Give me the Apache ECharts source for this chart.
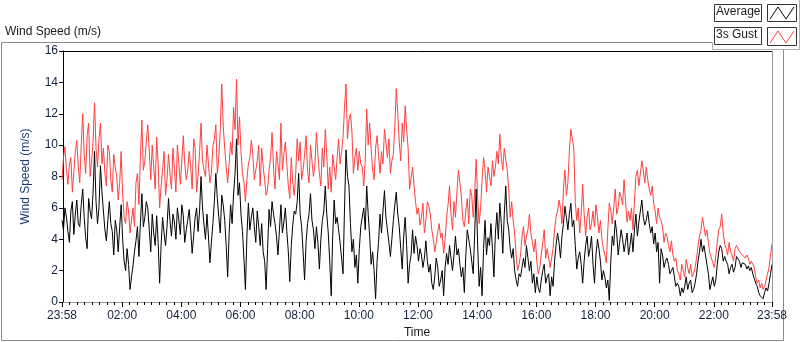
<!DOCTYPE html>
<html>
<head>
<meta charset="utf-8">
<script src="https://cdn.jsdelivr.net/npm/echarts@6/dist/echarts.min.js"></script>
<style>
html,body{margin:0;padding:0;background:#fff;}
#chart{width:800px;height:342px;}
</style>
</head>
<body>
<div id="chart"></div>
<script>
// Sampling: minutes since midnight of the first day, one sample every 3 minutes
const startMinute = -2;      // 23:58
const stepMinutes = 3;

const gustSpeed = [
 7.8, 9.2, 9.9, 8.4, 7.5, 8.8, 9.2, 7.0, 8.3, 9.6, 10.3, 8.6, 7.6, 10.0, 12.0, 9.4, 8.2, 10.6, 11.4, 8.0, 9.0, 10.2, 12.7, 9.8, 8.6, 10.4, 11.4, 8.8, 9.8, 8.2, 7.4, 10.0, 9.6, 7.8, 7.0, 9.4, 8.6, 8.0, 6.5, 7.6, 9.6,
 6.8, 5.4, 5.0, 6.4, 5.8, 4.4, 5.2, 6.0, 4.8, 7.6, 8.2, 6.2, 9.2, 11.6, 8.4, 9.0, 10.2, 11.3, 9.6, 7.8, 10.0, 8.6, 7.2, 10.5, 8.8, 6.0, 7.4, 8.4, 9.6, 6.8, 7.8, 9.4, 8.2, 7.2, 9.8, 8.5, 7.0, 10.0, 8.8, 7.5,
 9.0, 10.6, 8.8, 7.8, 8.4, 9.6, 8.6, 7.2, 10.4, 9.8, 7.0, 8.0, 9.6, 11.4, 9.0, 8.4, 8.0, 10.0, 8.8, 7.6, 8.2, 9.9, 10.4, 11.3, 8.2, 9.2, 11.0, 13.9, 11.2, 9.8, 8.6, 7.6, 8.8, 10.2, 9.4, 12.4, 11.0, 14.2, 10.0, 11.8,
 9.6, 8.2, 7.6, 6.4, 7.8, 8.8, 9.2, 10.3, 9.4, 7.8, 8.4, 9.0, 10.0, 7.4, 9.8, 8.6, 7.8, 6.8, 7.2, 8.4, 9.2, 10.8, 8.6, 7.2, 9.6, 8.8, 7.8, 11.4, 8.4, 9.4, 10.2, 8.8, 7.4, 6.6, 9.2, 7.6, 6.8, 8.2, 10.4, 9.0,
 10.2, 7.8, 8.4, 9.4, 10.6, 8.4, 7.6, 10.0, 9.0, 8.0, 8.8, 10.8, 9.4, 8.2, 7.4, 9.8, 8.6, 11.0, 9.4, 7.2, 8.6, 7.0, 9.4, 8.6, 7.8, 9.2, 10.4, 8.8, 9.6, 10.5, 12.4, 13.9, 10.4, 11.6, 12.0, 10.9, 8.2, 9.2, 9.8, 8.4,
 9.6, 8.8, 8.6, 7.4, 9.0, 12.3, 10.0, 11.4, 9.8, 8.4, 7.8, 9.8, 10.6, 9.4, 8.2, 9.6, 8.8, 11.0, 10.2, 9.2, 10.4, 8.2, 9.0, 9.4, 11.2, 13.6, 12.0, 10.2, 9.0, 11.4, 10.2, 12.5, 11.0, 9.8, 7.2, 7.9, 8.6, 7.4, 6.4, 5.6,
 6.0, 4.9, 5.4, 6.3, 4.4, 5.2, 6.4, 6.1, 5.6, 4.6, 4.0, 3.2, 3.8, 4.5, 5.0, 4.1, 4.4, 3.1, 4.0, 5.4, 6.2, 7.4, 5.6, 4.6, 6.4, 5.4, 7.0, 8.4, 7.6, 6.7, 5.2, 4.8, 5.8, 6.6, 5.0, 7.2, 6.8, 5.4, 7.0, 9.1,
 6.6, 5.0, 6.0, 7.8, 9.2, 8.4, 7.0, 8.6, 8.0, 7.4, 9.0, 8.0, 8.6, 9.6, 8.8, 10.7, 9.2, 8.4, 9.8, 9.8, 8.4, 7.2, 5.4, 6.4, 5.2, 4.4, 3.0, 2.0, 2.4, 3.0, 4.2, 4.8, 3.6, 4.2, 4.6, 5.6, 4.4, 3.8, 3.2, 4.0,
 2.6, 1.8, 2.2, 3.0, 3.8, 4.6, 2.8, 3.4, 2.8, 2.2, 2.8, 3.4, 4.6, 5.4, 5.8, 6.5, 6.0, 5.0, 7.2, 8.4, 6.8, 7.6, 9.6, 11.0, 10.4, 9.8, 6.4, 5.2, 6.0, 4.4, 5.6, 7.5, 5.6, 4.2, 5.4, 6.0, 4.6, 5.0, 5.8, 4.8,
 6.2, 5.4, 4.4, 5.2, 4.0, 3.4, 3.0, 2.5, 4.6, 6.3, 5.8, 5.0, 6.0, 7.2, 5.6, 6.0, 7.0, 6.7, 6.2, 7.8, 6.4, 5.1, 5.8, 5.2, 6.0, 4.6, 6.4, 8.0, 8.4, 7.4, 8.2, 9.0, 8.4, 7.6, 8.6, 7.8, 7.2, 6.8, 7.4, 6.3,
 5.8, 5.0, 6.0, 5.4, 5.2, 4.8, 3.8, 4.4, 4.2, 3.6, 3.2, 3.9, 3.0, 2.6, 2.8, 2.0, 1.8, 1.4, 2.4, 2.0, 1.6, 2.7, 2.2, 1.8, 2.4, 1.6, 1.8, 2.2, 2.8, 3.6, 4.2, 4.6, 5.4, 4.8, 4.2, 4.6, 3.8, 3.1, 2.8, 2.5,
 2.2, 2.9, 3.8, 4.6, 4.8, 5.6, 4.4, 3.7, 3.4, 3.0, 3.8, 3.2, 3.0, 2.6, 3.4, 3.6, 3.4, 3.2, 3.3, 3.0, 2.9, 2.8, 3.0, 2.8, 2.4, 2.6, 2.4, 2.2, 1.6, 1.2, 1.4, 0.9, 1.2, 0.8, 1.0, 1.4, 1.8, 2.2, 3.0, 3.7
];

const averageSpeed = [
 5.2, 4.6, 6.0, 5.4, 4.5, 3.8, 5.8, 6.4, 4.3, 5.6, 6.5, 5.0, 4.8, 6.2, 7.2, 5.4, 4.1, 3.4, 6.6, 5.8, 5.3, 7.0, 9.6, 6.4, 5.0, 6.0, 8.7, 7.0, 5.8, 4.6, 3.9, 5.2, 6.4, 5.0, 4.5, 3.0, 5.2, 4.6, 3.2, 4.8, 6.2,
 4.0, 2.6, 2.0, 3.4, 2.4, 0.8, 1.6, 2.3, 3.2, 3.9, 4.8, 2.9, 5.0, 6.9, 4.8, 5.4, 6.4, 6.0, 4.6, 3.2, 5.6, 4.4, 3.6, 5.5, 3.8, 1.2, 3.6, 5.4, 4.4, 3.6, 4.8, 6.6, 5.2, 4.2, 5.6, 5.1, 4.0, 6.0, 5.2, 4.3,
 6.2, 5.5, 3.8, 4.6, 5.2, 5.9, 4.6, 3.1, 4.2, 5.4, 6.0, 4.5, 5.8, 8.0, 6.0, 4.9, 4.0, 5.6, 4.2, 2.5, 3.8, 5.0, 6.4, 8.2, 6.6, 5.4, 4.4, 6.8, 6.2, 5.2, 3.6, 1.6, 4.4, 6.2, 5.0, 6.9, 8.2, 10.4, 6.8, 7.6,
 5.6, 4.5, 2.8, 0.8, 4.2, 6.3, 4.6, 5.4, 6.0, 4.8, 3.8, 5.8, 4.8, 3.6, 5.0, 3.2, 2.6, 0.8, 3.4, 5.9, 4.8, 6.4, 5.6, 5.0, 4.2, 3.0, 4.6, 6.2, 4.4, 5.1, 6.0, 4.5, 3.2, 1.3, 3.6, 4.9, 5.8, 5.6, 6.4, 8.2,
 5.6, 4.8, 3.2, 1.4, 3.8, 5.0, 5.6, 6.9, 5.2, 4.6, 3.4, 4.8, 3.8, 2.1, 4.0, 5.2, 5.8, 7.4, 5.6, 4.4, 2.6, 0.4, 4.2, 6.5, 5.0, 5.4, 4.6, 3.8, 2.8, 1.8, 6.0, 9.7, 8.0, 7.4, 5.0, 3.2, 4.0, 2.2, 3.0, 1.2,
 3.4, 4.8, 5.4, 6.0, 4.6, 7.4, 5.6, 4.2, 2.4, 3.2, 2.0, 0.2, 2.6, 3.8, 5.6, 4.4, 5.8, 7.1, 5.4, 4.6, 3.8, 2.9, 4.0, 5.2, 6.2, 7.0, 5.6, 4.8, 3.4, 2.1, 4.2, 5.4, 3.6, 1.2, 2.4, 3.0, 4.6, 3.1, 4.2, 3.6,
 2.6, 3.4, 3.0, 2.2, 2.8, 3.9, 2.6, 1.9, 2.4, 1.2, 0.8, 1.6, 2.8, 2.2, 1.0, 1.4, 2.0, 0.4, 2.2, 3.1, 2.4, 3.6, 2.8, 2.0, 3.0, 4.2, 3.0, 3.4, 2.4, 1.6, 2.2, 0.6, 3.0, 4.6, 4.0, 3.4, 2.6, 1.8, 4.4, 7.2,
 3.6, 1.0, 2.2, 0.4, 3.4, 5.2, 3.0, 4.1, 3.6, 5.0, 3.4, 1.6, 4.4, 5.7, 4.0, 6.3, 5.0, 3.1, 5.6, 7.4, 5.2, 4.6, 3.4, 2.8, 3.4, 2.0, 1.4, 1.0, 1.8, 1.6, 2.2, 2.8, 2.2, 3.6, 2.8, 2.0, 2.6, 1.2, 1.8, 0.6,
 1.6, 0.9, 0.6, 1.4, 2.0, 2.4, 1.2, 1.6, 1.8, 0.4, 1.6, 1.0, 2.6, 3.6, 4.4, 3.8, 2.8, 4.2, 5.0, 6.1, 5.4, 4.6, 5.6, 6.3, 4.8, 5.2, 3.6, 2.1, 2.8, 3.2, 2.4, 1.2, 2.6, 3.6, 4.2, 2.9, 3.4, 4.2, 2.4, 1.2,
 3.0, 4.0, 3.4, 2.6, 1.4, 2.0, 1.6, 0.9, 1.4, 0.1, 2.6, 4.2, 3.6, 5.2, 4.4, 3.0, 3.8, 4.6, 4.0, 3.2, 3.8, 4.4, 3.0, 3.6, 4.4, 3.2, 4.6, 5.6, 4.2, 5.1, 5.8, 6.5, 5.4, 4.9, 5.2, 5.8, 5.0, 4.4, 4.8, 3.7,
 4.4, 3.2, 3.8, 1.2, 3.4, 3.0, 2.2, 2.6, 2.8, 2.4, 1.8, 2.0, 2.2, 1.6, 1.0, 1.2, 1.0, 0.4, 0.9, 0.6, 1.0, 1.6, 0.8, 1.2, 1.4, 0.6, 0.8, 1.2, 1.8, 2.6, 3.2, 4.0, 3.2, 3.6, 3.0, 2.4, 1.8, 0.8, 1.2, 1.6,
 1.0, 1.4, 2.4, 3.2, 3.6, 3.4, 2.6, 2.9, 2.6, 2.4, 1.8, 2.2, 2.4, 1.9, 2.2, 2.9, 2.8, 2.6, 2.2, 2.5, 2.6, 2.4, 2.1, 2.3, 2.0, 2.2, 1.8, 1.5, 1.2, 1.0, 0.6, 0.4, 0.5, 0.2, 0.6, 0.9, 0.7, 1.2, 1.8, 2.4
];

const xTickMinutes = [-2, 120, 240, 360, 480, 600, 720, 840, 960, 1080, 1200, 1320, 1438];
const xTickLabels = ['23:58', '02:00', '04:00', '06:00', '08:00', '10:00', '12:00', '14:00', '16:00', '18:00', '20:00', '22:00', '23:58'];
const minorPerMajor = 8;

const seriesNames = ['Average', '3s Gust'];
const yMin = 0, yMax = 16, yStep = 2;

// build option data
const gustData = gustSpeed.map((v, i) => [startMinute + i * stepMinutes, v]);
const avgData = averageSpeed.map((v, i) => [startMinute + i * stepMinutes, v]);

const minorTicks = [];
for (let k = 0; k < xTickMinutes.length - 1; k++) {
  const a = xTickMinutes[k], b = xTickMinutes[k + 1];
  for (let j = 1; j < minorPerMajor; j++) minorTicks.push(a + (b - a) * j / minorPerMajor);
}

const FONT = '"Liberation Sans", Arial, sans-serif';
const tickColor = '#14213d';

const chart = echarts.init(document.getElementById('chart'), null, {renderer: 'canvas'});
const option = {
  animation: false,
  backgroundColor: '#ffffff',
  grid: {left: 62, right: 28, top: 51, bottom: 40, containLabel: false, outerBoundsMode: 'none'},
  xAxis: [{
    type: 'value', min: xTickMinutes[0], max: xTickMinutes[xTickMinutes.length - 1],
    name: 'Time', nameLocation: 'middle', nameGap: 25,
    nameTextStyle: {fontFamily: FONT, fontSize: 12, color: '#1a1a1a'},
    axisLine: {show: true, lineStyle: {color: '#9a9a9a', width: 1}},
    axisTick: {show: true, customValues: xTickMinutes, length: 5, lineStyle: {color: '#000', width: 1}},
    axisLabel: {show: true, customValues: xTickMinutes, margin: 8, fontFamily: FONT, fontSize: 12, color: tickColor,
      formatter: v => { const k = xTickMinutes.indexOf(v); return k >= 0 ? xTickLabels[k] : ''; }},
    splitLine: {show: false}
  }, {
    type: 'value', min: xTickMinutes[0], max: xTickMinutes[xTickMinutes.length - 1], position: 'bottom',
    axisLine: {show: false},
    axisTick: {show: true, customValues: minorTicks, length: 3, lineStyle: {color: '#000', width: 1}},
    axisLabel: {show: false}, splitLine: {show: false}
  }],
  yAxis: {
    type: 'value', min: yMin, max: yMax, interval: yStep,
    name: 'Wind Speed (m/s)', nameLocation: 'middle', nameGap: 30,
    nameTextStyle: {fontFamily: FONT, fontSize: 12, color: '#1c3a72'},
    axisLine: {show: true, lineStyle: {color: '#000', width: 1}},
    axisTick: {show: true, length: 4, lineStyle: {color: '#000'}},
    axisLabel: {margin: 4, fontFamily: FONT, fontSize: 12, color: tickColor},
    splitLine: {show: false}
  },
  series: [{
    name: seriesNames[1], type: 'line', data: gustData, showSymbol: false, symbol: 'none',
    lineStyle: {color: '#ff4040', width: 1}, z: 2
  }, {
    name: seriesNames[0], type: 'line', data: avgData, showSymbol: false, symbol: 'none',
    lineStyle: {color: '#000000', width: 1}, z: 3
  }],
  graphic: [
    {type: 'line', shape: {x1: 62, y1: 51.5, x2: 773, y2: 51.5}, style: {stroke: '#000', lineWidth: 1}, z: 10},
    {type: 'line', shape: {x1: 772.5, y1: 51, x2: 772.5, y2: 302}, style: {stroke: '#9a9a9a', lineWidth: 1}, z: 10},
    {type: 'polyline', shape: {points: [[712.5, 42.5], [1.5, 42.5], [1.5, 340.5], [783.5, 340.5], [783.5, 49.5]]},
      style: {stroke: '#8a8a8a', fill: null, lineWidth: 1}},
    {type: 'polyline', shape: {points: [[712.5, 42.5], [712.5, 49.5], [799.5, 49.5], [799.5, 0]]},
      style: {stroke: '#b0b0b0', fill: null, lineWidth: 1}},
    {type: 'text', left: 5, top: 26, style: {text: 'Wind Speed (m/s)', font: '12px ' + FONT, fill: '#1a1a1a'}},
    {type: 'rect', shape: {x: 714.5, y: 4.5, width: 47, height: 17}, style: {stroke: '#333', fill: '#fff', lineWidth: 1}},
    {type: 'text', left: 716, top: 6, style: {text: seriesNames[0], font: '12px ' + FONT, fill: '#1a1a1a'}},
    {type: 'rect', shape: {x: 767.5, y: 4.5, width: 29, height: 17}, style: {stroke: '#333', fill: '#fff', lineWidth: 1}},
    {type: 'polyline', shape: {points: [[770, 19], [778, 7], [786, 19], [794, 7]]}, style: {stroke: '#000', fill: null, lineWidth: 1}},
    {type: 'rect', shape: {x: 714.5, y: 27.5, width: 47, height: 17}, style: {stroke: '#333', fill: '#fff', lineWidth: 1}},
    {type: 'text', left: 716, top: 29, style: {text: seriesNames[1], font: '12px ' + FONT, fill: '#1a1a1a'}},
    {type: 'rect', shape: {x: 767.5, y: 27.5, width: 29, height: 18}, style: {stroke: '#333', fill: '#fff', lineWidth: 1}},
    {type: 'polyline', shape: {points: [[770, 43], [778, 31], [786, 43], [794, 31]]}, style: {stroke: '#ff4040', fill: null, lineWidth: 1}}
  ]
};
chart.setOption(option);
</script>
</body>
</html>
